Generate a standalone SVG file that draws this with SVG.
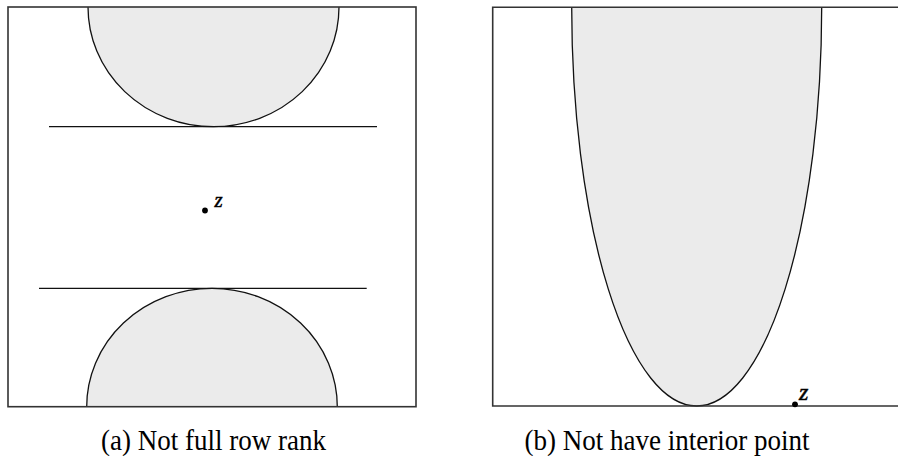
<svg xmlns="http://www.w3.org/2000/svg" width="898" height="456" viewBox="0 0 898 456">
<style>
.fill{fill:#ebebeb;stroke:none}
.curve{fill:none;stroke:#111;stroke-width:1.3}
.frame{fill:none;stroke:#333;stroke-width:1.6}
.line{stroke:#111;stroke-width:1.3}
.dot{fill:#000}
.z{font-family:"Liberation Serif","DejaVu Serif",serif;font-style:italic;fill:#000;stroke:#000;stroke-width:0.5}
.cap{font-family:"Liberation Serif","DejaVu Serif",serif;font-size:30px;fill:#000;text-anchor:middle}
</style>
<rect width="898" height="456" fill="#fff"/>
<g id="panel-a">
  <path class="fill" d="M88 7 A125.5 119.7 0 0 0 339 7 Z"/>
  <path class="curve" d="M88 7 A125.5 119.7 0 0 0 339 7"/>
  <path class="fill" d="M86.7 406.7 A125.3 118.4 0 0 1 337.3 406.7 Z"/>
  <path class="curve" d="M86.7 406.7 A125.3 118.4 0 0 1 337.3 406.7"/>
  <line class="line" x1="49" y1="126.7" x2="377" y2="126.7"/>
  <line class="line" x1="39" y1="288.3" x2="366.7" y2="288.3"/>
  <rect class="frame" x="8" y="7" width="408" height="399.7"/>
  <circle class="dot" cx="205" cy="210.5" r="2.9"/>
  <text class="z" x="214.5" y="207.3" font-size="21">z</text>
  <text class="cap" x="213.5" y="450" textLength="225" lengthAdjust="spacingAndGlyphs">(a) Not full row rank</text>
</g>
<g id="panel-b">
  <path class="fill" d="M571.7 7 A125 399 0 0 0 821.7 7 Z"/>
  <path class="curve" d="M571.7 7 A125 399 0 0 0 821.7 7"/>
  <path class="frame" d="M898 7.3 H492.7 V406 H898"/>
  <circle class="dot" cx="795" cy="404.3" r="2.9"/>
  <text class="z" x="799" y="400" font-size="24">z</text>
  <text class="cap" x="667" y="450" textLength="285" lengthAdjust="spacingAndGlyphs">(b) Not have interior point</text>
</g>
</svg>
